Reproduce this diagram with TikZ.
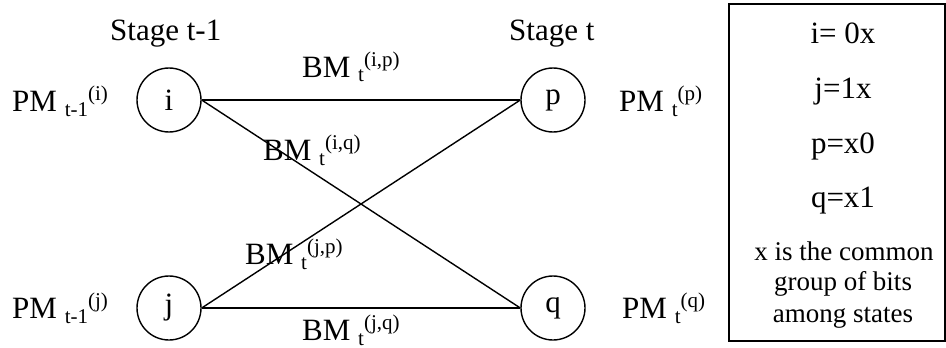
\documentclass[tikz,border=0pt]{standalone}
\usepackage{fontspec}
\setmainfont{Liberation Serif}
\newcommand\scr[3]{#1 {\fontsize{21}{21}\selectfont\raisebox{-5pt}{#2}\raisebox{11pt}{#3}}}
\begin{document}
\begin{tikzpicture}[x=1pt,y=-1pt,
  state/.style={draw,circle,minimum size=64pt,inner sep=0pt,line width=1.4pt,font=\fontsize{31}{31}\selectfont},
  lbl/.style={anchor=base west,inner sep=0pt,font=\fontsize{31}{31}\selectfont},
  boxtxt/.style={anchor=base,inner sep=0pt,font=\fontsize{31}{31}\selectfont},
  smalltxt/.style={anchor=base,inner sep=0pt,font=\fontsize{27}{27}\selectfont},
  edge/.style={line width=1.4pt}]
\useasboundingbox (0,0) rectangle (946,348);
\node[state] (i) at (169,100) {i};
\node[state] (j) at (169,308) {j};
\node[state] (p) at (553,100) {p};
\node[state] (q) at (553,308) {q};
\draw[edge] (i.east) -- (p.west);
\draw[edge] (i.east) -- (q.west);
\draw[edge] (j.east) -- (p.west);
\draw[edge] (j.east) -- (q.west);
\node[lbl] (st1) at (110,40) {Stage t-1};
\node[lbl] (st) at (509,40) {Stage t};
\node[lbl] (pmi) at (12,111) {\scr{PM}{t-1}{(i)}};
\node[lbl] (pmj) at (12,318) {\scr{PM}{t-1}{(j)}};
\node[lbl] (pmp) at (619,111) {\scr{PM}{t}{(p)}};
\node[lbl] (pmq) at (622,318) {\scr{PM}{t}{(q)}};
\node[lbl] (bmip) at (302,77) {\scr{BM}{t}{(i,p)}};
\node[lbl] (bmiq) at (263,160) {\scr{BM}{t}{(i,q)}};
\node[lbl] (bmjp) at (245,264) {\scr{BM}{t}{(j,p)}};
\node[lbl] (bmjq) at (302,340) {\scr{BM}{t}{(j,q)}};
\draw[line width=1.3pt] (729,4) rectangle (945,341);
\node[boxtxt] (ti) at (843,43) {i= 0x};
\node[boxtxt] (tj) at (843,98) {j=1x};
\node[boxtxt] (tp) at (843,153) {p=x0};
\node[boxtxt] (tq) at (843,207) {q=x1};
\node[smalltxt] (t1) at (844,260) {x is the common};
\node[smalltxt] (t2) at (843,290) {group of bits};
\node[smalltxt] (t3) at (843,322) {among states};
\end{tikzpicture}
\end{document}
